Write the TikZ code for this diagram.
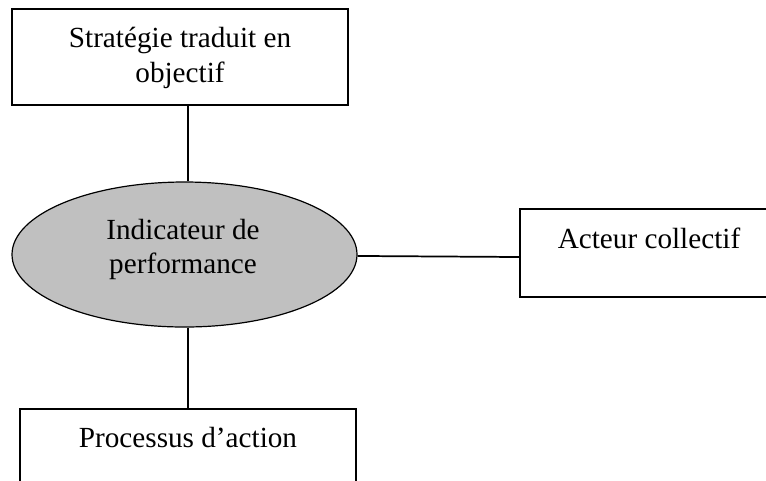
\documentclass[tikz,border=0pt]{standalone}
\usepackage{fontspec}
\setmainfont{Liberation Serif}
\usetikzlibrary{shapes.geometric}
\definecolor{hubgray}{HTML}{C0C0C0}
\begin{document}
\begin{tikzpicture}[x=0.75pt,y=-0.75pt,
  box/.style={draw=black, line width=0.9pt, rectangle, inner sep=0pt, fill=white},
  hub/.style={draw=black, line width=0.9pt, ellipse, inner sep=0pt, fill=hubgray},
  txt/.style={font=\fontsize{21.9}{26}\selectfont, anchor=base, inner sep=0pt},
  link/.style={line width=1.3pt}]
\useasboundingbox (0,0) rectangle (766,480);
\clip (0,0) rectangle (766,480);

% boxes and the central ellipse
\node[box, minimum width=252pt, minimum height=72pt] (strat) at (180,57) {};
\node[hub, minimum width=258.75pt, minimum height=108.75pt] (ind) at (184.5,254.5) {};
\node[box, minimum width=210pt, minimum height=66pt] (acteur) at (660,253) {};
\node[box, minimum width=252pt, minimum height=83.25pt] (proc) at (188,464.5) {};

% labels
\node[txt] (strat1) at (180,47) {Stratégie traduit en};
\node[txt] (strat2) at (180,82) {objectif};
\node[txt] (ind1) at (183,239) {Indicateur de};
\node[txt] (ind2) at (183,273) {performance};
\node[txt] (acteur1) at (649,248) {Acteur collectif};
\node[txt] (proc1) at (188,447) {Processus d’action};

% connectors
\draw[link] ([xshift=6pt]strat.south) -- (proc.north |- ind.north);
\draw[link] (proc.north |- ind.south) -- (proc.north);
\draw[link] ([yshift=-1.1pt]ind.east) -- ([yshift=-3pt]acteur.west);
\end{tikzpicture}
\end{document}
